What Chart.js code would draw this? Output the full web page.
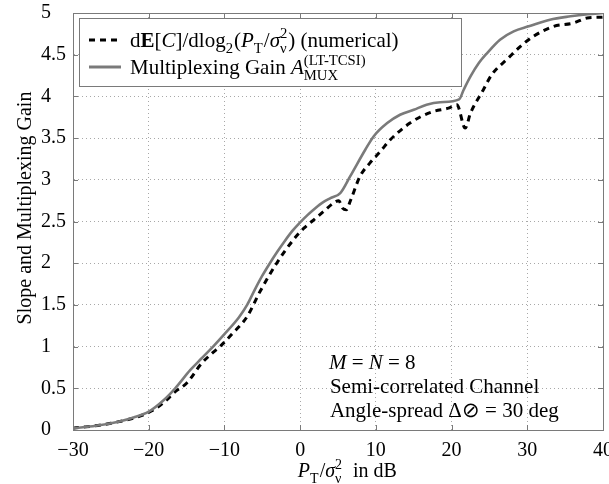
<!DOCTYPE html>
<html>
<head>
<meta charset="utf-8">
<script src="https://cdn.jsdelivr.net/npm/chart.js@4.4.0/dist/chart.umd.min.js"></script>
<style>
html,body{margin:0;padding:0;background:#fff;}
canvas{display:block;}
</style>
</head>
<body>
<canvas id="c" width="609" height="484"></canvas>
<script>
// ---- Data ----
const xTicks = [-30, -20, -10, 0, 10, 20, 30, 40];
const yTicks = [0, 0.5, 1, 1.5, 2, 2.5, 3, 3.5, 4, 4.5, 5];

// Multiplexing gain A_MUX^(LT-TCSI) (solid gray)
const muxDb  = [-30,-27,-24,-22,-20,-18,-16.5,-14.5,-13,-11.5,-10,-8.1,-7,-6,-5,-4,-3,-2,-1,0,1,2,3,4,5.3,6.6,8.6,9.7,11.5,13.2,15,16.7,18.5,21,21.6,22.5,23.6,24.7,26.4,28.2,30.2,33,35.7,38,40];
const muxVal = [0.02,0.05,0.10,0.15,0.22,0.36,0.50,0.72,0.86,1.00,1.15,1.35,1.50,1.68,1.85,2.00,2.14,2.27,2.39,2.49,2.58,2.66,2.73,2.78,2.84,3.04,3.36,3.52,3.68,3.78,3.84,3.90,3.93,3.965,4.08,4.24,4.40,4.52,4.68,4.78,4.84,4.92,4.96,4.985,5.00];

// dE[C]/dlog2(PT/sigma^2) numerical (dashed black)
const slopeDb  = [-30,-25,-20,-18,-16.5,-15,-13,-11.5,-10.6,-9,-7,-5.3,-3.1,-0.9,0.5,1.8,3.1,4.4,5.1,5.6,6.1,6.6,7.9,9.2,10.6,11.9,14.5,16,17.6,19.6,20.7,21.8,22.5,24.2,25.3,27.5,29.1,30.8,33.5,36.1,37.9,40];
const slopeVal = [0.02,0.08,0.21,0.33,0.46,0.56,0.80,0.93,1.00,1.15,1.36,1.66,2.00,2.28,2.42,2.52,2.62,2.72,2.75,2.66,2.64,2.74,3.04,3.20,3.34,3.48,3.68,3.76,3.82,3.86,3.90,3.62,3.80,4.08,4.26,4.46,4.60,4.72,4.84,4.88,4.94,4.95];

const FAM = '"Liberation Serif", "Times New Roman", serif';
const GRAY = '#7a7a7a';

function pts(xs, ys){ return xs.map((x,i)=>({x:x, y:ys[i]})); }

function setFont(ctx, style, size){
  let s = '';
  if (style === 'i') s = 'italic ';
  if (style === 'b') s = 'bold ';
  ctx.font = s + size + 'px ' + FAM;
}
function drawRich(ctx, x, y, segs, size){
  ctx.textAlign = 'left';
  ctx.textBaseline = 'alphabetic';
  for (const s of segs){
    if (s.sup !== undefined || s.sub !== undefined){
      const ss = size * (s.scale || 0.7);
      let w = 0;
      if (s.sup){ setFont(ctx, s.supF || '', ss); ctx.fillText(s.sup, x, y - size*0.42); w = Math.max(w, ctx.measureText(s.sup).width); }
      if (s.sub){ setFont(ctx, s.subF || '', ss); ctx.fillText(s.sub, x, y + size*0.28); w = Math.max(w, ctx.measureText(s.sub).width); }
      x += w + 1;
      continue;
    }
    setFont(ctx, s.f || '', size);
    ctx.fillText(s.t, x, y);
    x += ctx.measureText(s.t).width;
  }
  return x;
}

const overlay = {
  id: 'overlay',
  afterDraw(chart){
    const ctx = chart.ctx;
    const xs = chart.scales.x, ys = chart.scales.y;
    const L = xs.left, R = xs.right, T = ys.top, B = ys.bottom;
    ctx.save();
    // axes box
    ctx.strokeStyle = GRAY; ctx.lineWidth = 1;
    ctx.strokeRect(Math.round(L)+0.5, Math.round(T)+0.5, Math.round(R-L), Math.round(B-T));
    // inward tick marks
    ctx.beginPath();
    for (const v of xTicks){
      const p = Math.round(xs.getPixelForValue(v)) + 0.5;
      ctx.moveTo(p, B); ctx.lineTo(p, B-5);
      ctx.moveTo(p, T); ctx.lineTo(p, T+5);
    }
    for (const v of yTicks){
      const p = Math.round(ys.getPixelForValue(v)) + 0.5;
      ctx.moveTo(L, p); ctx.lineTo(L+5, p);
      ctx.moveTo(R, p); ctx.lineTo(R-5, p);
    }
    ctx.stroke();

    // legend
    const lx = L + 6, ly = T + 5, lw = 382, lh = 68;
    ctx.fillStyle = '#fff';
    ctx.fillRect(lx, ly, lw, lh);
    ctx.strokeStyle = GRAY;
    ctx.strokeRect(Math.round(lx)+0.5, Math.round(ly)+0.5, lw, lh);
    // sample lines
    ctx.lineWidth = 3;
    ctx.strokeStyle = '#000';
    ctx.setLineDash([6,5]);
    ctx.beginPath(); ctx.moveTo(lx+10, ly+22); ctx.lineTo(lx+42, ly+22); ctx.stroke();
    ctx.setLineDash([]);
    ctx.strokeStyle = GRAY;
    ctx.beginPath(); ctx.moveTo(lx+10, ly+49); ctx.lineTo(lx+42, ly+49); ctx.stroke();
    ctx.fillStyle = '#000';
    const fs = 21;
    drawRich(ctx, lx+51, ly+29, [
      {t:'d'}, {t:'E', f:'b'}, {t:'['}, {t:'C', f:'i'}, {t:']/dlog'}, {sub:'2'},
      {t:'('}, {t:'P', f:'i'}, {sub:'T'}, {t:'/'}, {t:'σ', f:'i'}, {sup:'2', sub:'ν'},
      {t:') (numerical)'}
    ], fs);
    drawRich(ctx, lx+51, ly+56, [
      {t:'Multiplexing Gain '}, {t:'A', f:'i'}, {sup:'(LT-TCSI)', sub:'MUX'}
    ], fs);

    // annotation
    const ax = xs.getPixelForValue(3.8);
    drawRich(ctx, ax, ys.getPixelForValue(0.73), [
      {t:'M', f:'i'}, {t:' = '}, {t:'N', f:'i'}, {t:' = 8'}
    ], 21);
    drawRich(ctx, ax+1, ys.getPixelForValue(0.44), [{t:'Semi-correlated Channel'}], 21);
    drawRich(ctx, ax+1, ys.getPixelForValue(0.155), [{t:'Angle-spread Δ⊘ = 30 deg'}], 21);

    // x title
    drawRich(ctx, xs.getPixelForValue(-0.3), 477, [
      {t:'P', f:'i'}, {sub:'T'}, {t:'/'}, {t:'σ', f:'i'}, {sup:'2', sub:'ν'}, {t:'  in dB'}
    ], 20);

    // y title
    ctx.save();
    ctx.translate(26, 208);
    ctx.rotate(-Math.PI/2);
    setFont(ctx, '', 20);
    ctx.textAlign = 'center';
    ctx.textBaseline = 'middle';
    ctx.fillText('Slope and Multiplexing Gain', 0, 0);
    ctx.restore();

    ctx.restore();
  }
};

new Chart(document.getElementById('c'), {
  type: 'line',
  data: {
    datasets: [
      {
        label: 'dE[C]/dlog2(PT/σ²ν) (numerical)',
        data: pts(slopeDb, slopeVal),
        borderColor: '#000',
        borderWidth: 3,
        borderDash: [6,5],
        pointRadius: 0,
        cubicInterpolationMode: 'monotone',
        fill: false,
        order: 1
      },
      {
        label: 'Multiplexing Gain A_MUX^(LT-TCSI)',
        data: pts(muxDb, muxVal),
        borderColor: GRAY,
        borderWidth: 2.6,
        pointRadius: 0,
        cubicInterpolationMode: 'monotone',
        fill: false,
        order: 0
      }
    ]
  },
  options: {
    responsive: false,
    animation: false,
    events: [],
    layout: { padding: { left: 41, right: 6, top: 13, bottom: 0 } },
    plugins: { legend: { display: false }, tooltip: { enabled: false }, title: { display: false } },
    scales: {
      x: {
        type: 'linear', min: -30, max: 40,
        afterBuildTicks: (s) => { s.ticks = xTicks.map(v => ({value: v})); },
        afterFit: (s) => { s.height = 54; s.paddingLeft = 0; s.paddingRight = 0; },
        grid: {
          drawTicks: false,
          color: (c) => (c.index === 0 || c.index === xTicks.length-1) ? 'rgba(0,0,0,0)' : '#a8a8a8',
          lineWidth: 1
        },
        border: { display: true, color: GRAY, dash: [1,3] },
        ticks: {
          color: '#000', padding: 9, maxRotation: 0, autoSkip: false,
          font: { family: FAM, size: 20 },
          callback: (v) => String(v).replace('-', '−')
        }
      },
      y: {
        type: 'linear', min: 0, max: 5,
        afterBuildTicks: (s) => { s.ticks = yTicks.map(v => ({value: v})); },
        afterFit: (s) => { s.width = 32; s.paddingTop = 0; s.paddingBottom = 0; },
        grid: {
          drawTicks: false,
          color: (c) => (c.index === 0 || c.index === yTicks.length-1) ? 'rgba(0,0,0,0)' : '#a8a8a8',
          lineWidth: 1
        },
        border: { display: true, color: GRAY, dash: [1,3] },
        ticks: {
          color: '#000', padding: 4, crossAlign: 'far', autoSkip: false,
          font: { family: FAM, size: 20 },
          callback: (v) => String(v)
        }
      }
    }
  },
  plugins: [overlay]
});
</script>
</body>
</html>
